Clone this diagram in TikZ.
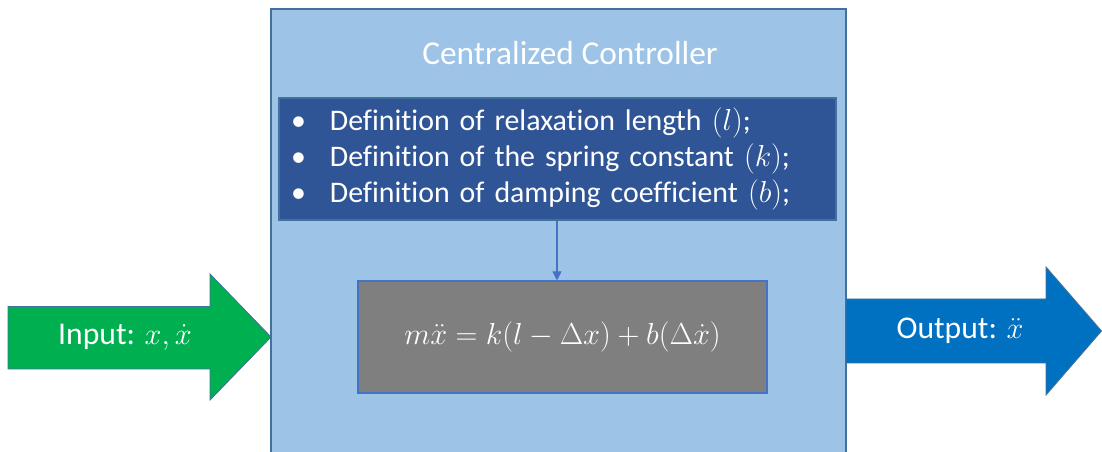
\documentclass[tikz,border=0pt]{standalone}
\usepackage{fontspec}
\setmainfont{Carlito}[Ligatures=NoCommon]
\usepackage{tikz}
\usetikzlibrary{arrows.meta,positioning}
\definecolor{ctrlfill}{RGB}{157,195,230}
\definecolor{ctrledge}{RGB}{65,113,156}
\definecolor{listfill}{RGB}{47,85,151}
\definecolor{eqfill}{RGB}{127,127,127}
\definecolor{eqedge}{RGB}{68,114,196}
\definecolor{ingreen}{RGB}{0,176,80}
\definecolor{outblue}{RGB}{0,112,192}
\newcommand{\fsz}[1]{\fontsize{#1}{1.2\dimexpr#1pt\relax}\selectfont}
\tikzset{
  panel/.style={draw=ctrledge,line width=0.6pt,fill=ctrlfill,inner sep=0pt},
  listbox/.style={draw=ctrledge,line width=0.6pt,fill=listfill,text=white,inner sep=0pt,minimum width=11.14cm,minimum height=2.44cm,text width=10.66cm,align=left,font=\fsz{17}},
  eqbox/.style={draw=eqedge,line width=0.6pt,fill=eqfill,text=white,inner sep=0pt,minimum width=8.18cm,minimum height=2.24cm,font=\fsz{19}},
  bigarrow/.style={draw=ctrledge,line width=0.5pt},
  label/.style={text=white,font=\fsz{18}},
  link/.style={-{Triangle[length=1.8mm,width=1.8mm]},draw=eqedge,line width=0.6pt}
}
\newcommand{\bul}{\makebox[0.78cm][l]{\textbullet}}

\begin{document}
\begin{tikzpicture}
  \clip (0,0) rectangle (22.04,9.04);
  \fill[white] (0,0) rectangle (22.04,9.04);
  % controller panel
  \node[panel,minimum width=11.5cm,minimum height=9.06cm] (ctrl) at (11.17,4.33) {};
  \node[label,font=\fsz{19}] (title) at (11.4,7.98) {Centralized Controller};
  \node[listbox] (defs) at (11.15,5.86) {%
    \bul Definition of relaxation length $(l)$;\\
    \bul Definition of the spring constant $(k)$;\\
    \bul Definition of damping coefficient $(b)$;};
  \node[eqbox] (eqn) at (11.25,2.30) {$m\ddot{x} = k(l - \Delta x) + b(\Delta\dot{x})$};
  \draw[link] (defs.south -| 11.14,0) -- (eqn.north -| 11.14,0);
  % input and output arrows
  \draw[bigarrow,fill=ingreen] (0.16,1.66) -- (4.2,1.66) -- (4.2,1.04) -- (5.42,2.30)
    -- (4.2,3.56) -- (4.2,2.91) -- (0.16,2.91) -- cycle;
  \node[label] (input) at (2.5,2.30) {Input: $x,\dot{x}$};
  \draw[bigarrow,fill=outblue] (16.92,1.78) -- (20.92,1.78) -- (20.92,1.14) -- (22.03,2.42)
    -- (20.92,3.70) -- (20.92,3.06) -- (16.92,3.06) -- cycle;
  \node[label] (output) at (19.2,2.42) {Output: $\ddot{x}$};
\end{tikzpicture}
\end{document}
